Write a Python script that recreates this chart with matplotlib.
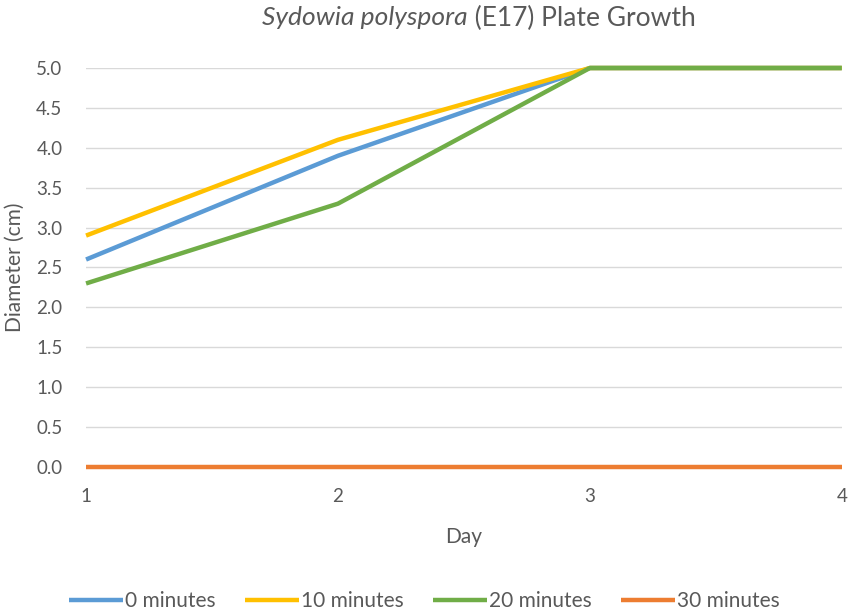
import matplotlib
matplotlib.use("Agg")
import matplotlib.pyplot as plt

days = [1, 2, 3, 4]
series_names = ["0 minutes", "10 minutes", "20 minutes", "30 minutes"]
min0 = [2.6, 3.9, 5.0, 5.0]
min10 = [2.9, 4.1, 5.0, 5.0]
min20 = [2.3, 3.3, 5.0, 5.0]
min30 = [0.0, 0.0, 0.0, 0.0]
colors = ["#5B9BD5", "#FFC000", "#70AD47", "#ED7D31"]
yticks = [0.0, 0.5, 1.0, 1.5, 2.0, 2.5, 3.0, 3.5, 4.0, 4.5, 5.0]

plt.rcParams["font.family"] = ["Lato", "DejaVu Sans"]
text_col = "#595959"

fig = plt.figure(figsize=(8.52, 6.16), dpi=100)
ax = fig.add_axes([0.101, 0.2419, 0.887, 0.6477])

for vals, name, c in zip([min0, min10, min20, min30], series_names, colors):
    ax.plot(days, vals, color=c, lw=3.2, label=name, solid_capstyle="butt", clip_on=False)

ax.set_xlim(1, 4)
ax.set_ylim(0, 5)
ax.set_xticks(days)
ax.set_yticks(yticks)
ax.set_yticklabels([f"{v:.1f}" for v in yticks])
ax.tick_params(length=0, labelsize=13.5, colors=text_col)
ax.tick_params(axis="y", pad=17)
ax.tick_params(axis="x", pad=15)
ax.yaxis.grid(True, color="#D9D9D9", lw=1)
ax.set_axisbelow(True)
for s in ax.spines.values():
    s.set_visible(False)

ax.set_xlabel("Day", fontsize=15, color=text_col, labelpad=16)
ax.set_ylabel("Diameter (cm)", fontsize=15, color=text_col, labelpad=8)

# title with italic species name
fig.canvas.draw()
r = fig.canvas.get_renderer()
t1 = fig.text(0, 0.99, "Sydowia polyspora", fontsize=19, style="italic", color=text_col, va="top")
t2 = fig.text(0, 0.99, " (E17) Plate Growth", fontsize=19, color=text_col, va="top")
w1 = t1.get_window_extent(r).width
w2 = t2.get_window_extent(r).width
x0 = 479 - (w1 + w2) / 2
t1.set_x(x0 / 852)
t2.set_x((x0 + w1) / 852)

fig.legend(loc="lower center", bbox_to_anchor=(0.498, -0.022), ncol=4, frameon=False,
           fontsize=15, handlelength=2.6, handletextpad=0.1, columnspacing=1.4,
           labelcolor=text_col)

fig.savefig("out.png", dpi=100)
